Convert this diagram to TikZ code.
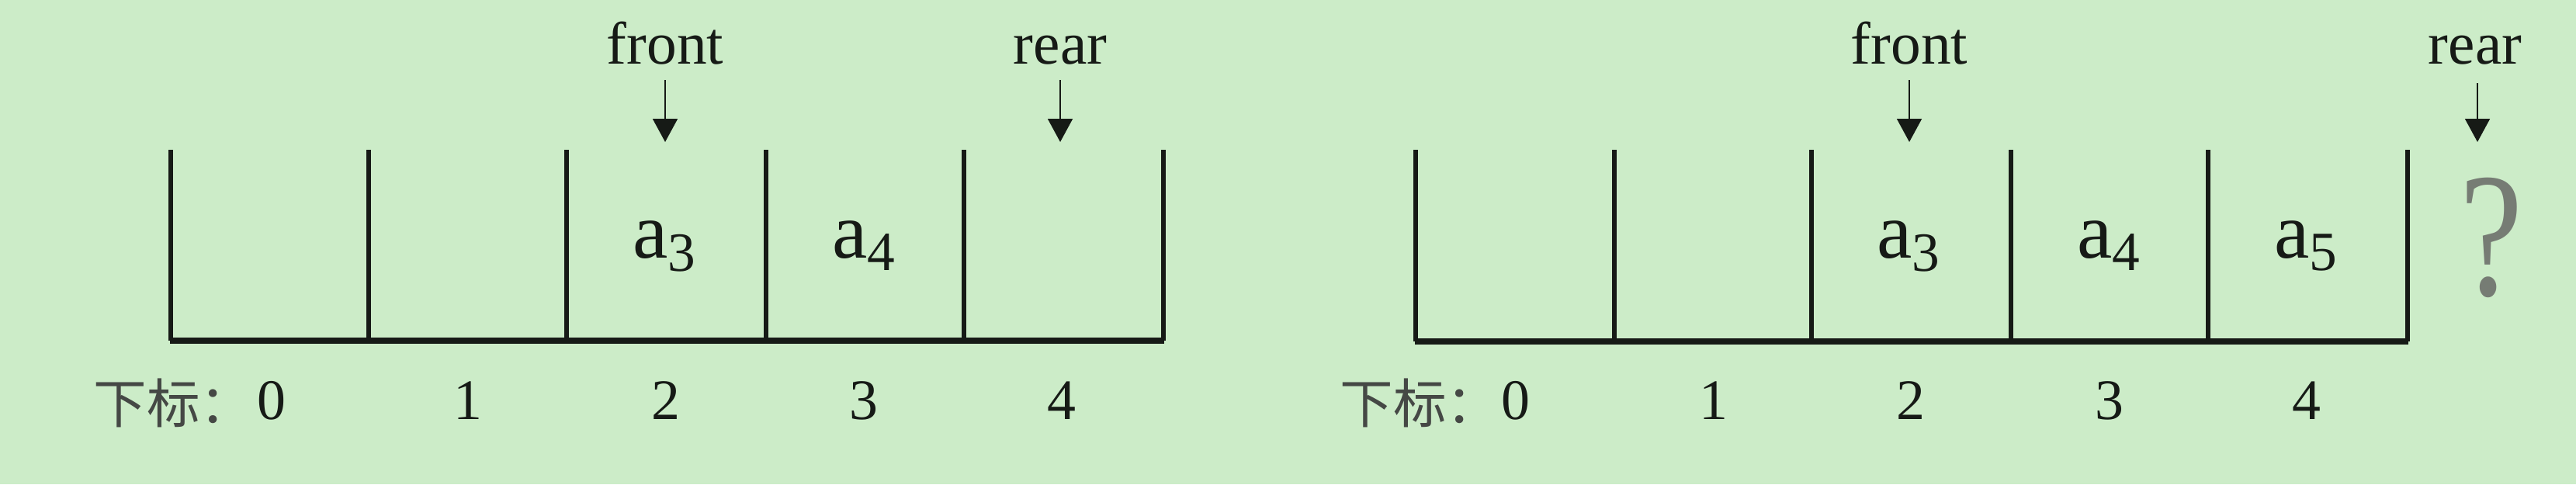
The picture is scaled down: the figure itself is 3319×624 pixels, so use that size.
\documentclass[tikz,border=0pt]{standalone}
\usepackage{graphicx}
\usepackage{fontspec}
\setmainfont{Liberation Serif}
\newfontfamily\cjk{Noto Sans CJK SC}
\usetikzlibrary{arrows.meta}
\definecolor{bg}{RGB}{204,236,200}
\definecolor{ink}{RGB}{22,26,22}
\definecolor{qgray}{RGB}{118,124,116}
\begin{document}
\begin{tikzpicture}[x=0.01cm,y=-0.01cm,
  ptrlbl/.style={font=\fontsize{22pt}{24pt}\selectfont, text=ink, inner sep=0pt, anchor=base},
  elem/.style={font=\fontsize{29pt}{30pt}\selectfont, text=ink, inner sep=0pt, anchor=base},
  idx/.style={font=\fontsize{21pt}{22pt}\selectfont, text=ink, inner sep=0pt, anchor=base},
  cjklbl/.style={font=\cjk\fontsize{19.5pt}{20pt}\selectfont, text=ink!80, inner sep=0pt, anchor=base west},
  cellline/.style={draw=ink, line width=1.6pt},
  floorline/.style={draw=ink, line width=2pt},
  ptr/.style={draw=ink, line width=0.8pt, -{Triangle[length=8.5pt,width=9pt]}},
  qmark/.style={font=\fontsize{65pt}{66pt}\selectfont, text=qgray, inner sep=0pt, anchor=base}
]
\fill[bg] (0,0) rectangle (3319,624);
\useasboundingbox (0,0) rectangle (3319,624);

% ---------- panel 1 ----------
\foreach \x in {220,475,730,987,1242,1499} \draw[cellline] (\x,193) -- (\x,439);
\draw[floorline] (219,439) -- (1500,439);

\node[ptrlbl] (front1) at (857,82) {front};
\node[ptrlbl] (rear1) at (1366,82) {rear};
\coordinate (fs1) at (857,103); \coordinate (ft1) at (857,183);
\coordinate (rs1) at (1366,103); \coordinate (rt1) at (1366,183);
\draw[ptr] (fs1) -- (ft1);
\draw[ptr] (rs1) -- (rt1);

\node[elem] (a31) at (857,332) {a\textsubscript{3}};
\node[elem] (a41) at (1114,332) {a\textsubscript{4}};

\node[cjklbl] (lab1) at (120,545) {下标：};
\node[idx] (i01) at (350,540) {0};
\node[idx] (i11) at (603,540) {1};
\node[idx] (i21) at (858,540) {2};
\node[idx] (i31) at (1113,540) {3};
\node[idx] (i41) at (1368,540) {4};

% ---------- panel 2 ----------
\foreach \x in {1824,2080,2334,2591,2845,3102} \draw[cellline] (\x,193) -- (\x,440);
\draw[floorline] (1823,440) -- (3103,440);

\node[ptrlbl] (front2) at (2460,82) {front};
\node[ptrlbl] (rear2) at (3189,82) {rear};
\coordinate (fs2) at (2460,103); \coordinate (ft2) at (2460,183);
\coordinate (rs2) at (3192,107); \coordinate (rt2) at (3192,183);
\draw[ptr] (fs2) -- (ft2);
\draw[ptr] (rs2) -- (rt2);

\node[elem] (a32) at (2460,332) {a\textsubscript{3}};
\node[elem] (a42) at (2718,332) {a\textsubscript{4}};
\node[elem] (a52) at (2972,332) {a\textsubscript{5}};
\node[qmark] (q2) at (3210,380) {\scalebox{0.8}[1]{?}};

\node[cjklbl] (lab2) at (1726,545) {下标：};
\node[idx] (i02) at (1953,540) {0};
\node[idx] (i12) at (2208,540) {1};
\node[idx] (i22) at (2462,540) {2};
\node[idx] (i32) at (2718,540) {3};
\node[idx] (i42) at (2972,540) {4};
\end{tikzpicture}
\end{document}
